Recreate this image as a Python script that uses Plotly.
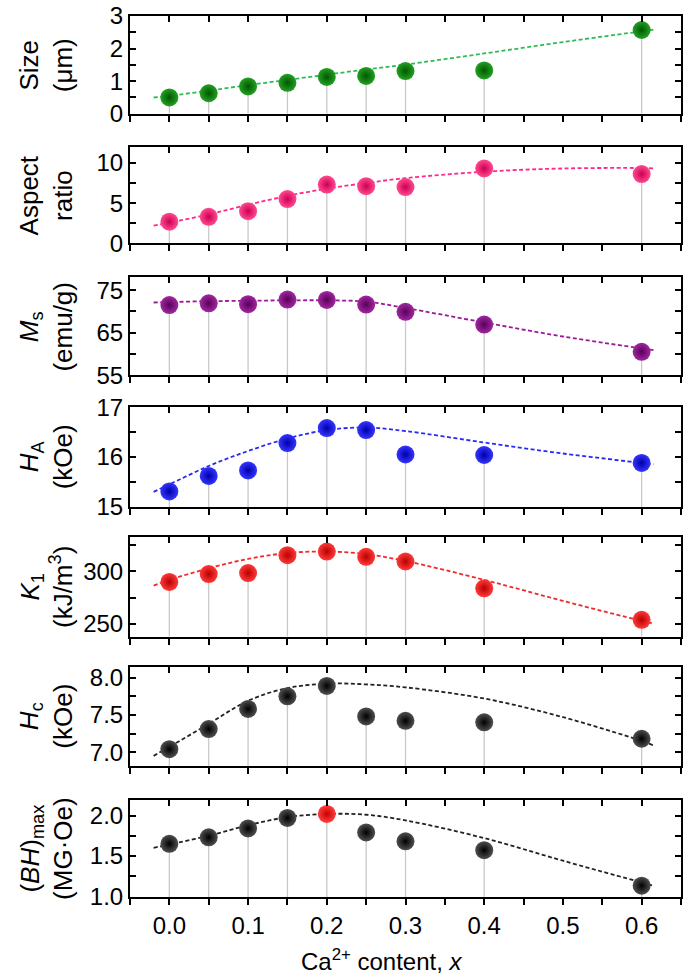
import plotly.graph_objects as go

# ---------------- data ----------------
x_content = [0.0, 0.05, 0.10, 0.15, 0.20, 0.25, 0.30, 0.40, 0.60]

size_um = [0.50, 0.63, 0.84, 0.95, 1.13, 1.16, 1.31, 1.33, 2.57]
aspect_ratio = [2.7, 3.3, 4.0, 5.5, 7.3, 7.1, 7.0, 9.3, 8.6]
ms_emu = [71.5, 71.9, 71.7, 72.8, 72.7, 71.6, 69.9, 66.9, 60.5]
ha_koe = [15.31, 15.62, 15.73, 16.28, 16.58, 16.54, 16.05, 16.04, 15.88]
k1_kj = [290.0, 297.5, 298.5, 315.5, 319.0, 314.0, 309.5, 284.0, 254.0]
hc_koe = [7.04, 7.31, 7.58, 7.75, 7.89, 7.48, 7.42, 7.40, 7.18]
bh_max = [1.65, 1.73, 1.84, 1.97, 2.02, 1.79, 1.68, 1.57, 1.13]

# fitted (dashed) curves
fit_x = [-0.02, 0.0, 0.05, 0.10, 0.15, 0.20, 0.25, 0.30, 0.40, 0.50, 0.60, 0.615]
size_fit = [0.50, 0.55, 0.71, 0.88, 1.04, 1.20, 1.36, 1.51, 1.85, 2.20, 2.53, 2.58]
aspect_fit = [2.2, 2.6, 3.6, 4.8, 5.9, 6.8, 7.5, 8.1, 8.9, 9.3, 9.35, 9.3]
ms_fit = [72.1, 72.2, 72.4, 72.5, 72.6, 72.6, 72.3, 70.8, 67.4, 64.1, 61.3, 60.9]
ha_fit = [15.30, 15.45, 15.82, 16.12, 16.37, 16.54, 16.59, 16.52, 16.29, 16.07, 15.88, 15.85]
k1_fit = [286.5, 292.0, 303.0, 312.0, 317.5, 319.0, 316.5, 310.0, 292.0, 272.0, 253.0, 250.5]
hc_fit = [6.95, 7.07, 7.38, 7.69, 7.86, 7.92, 7.91, 7.87, 7.72, 7.47, 7.15, 7.09]
bh_fit = [1.60, 1.64, 1.75, 1.88, 1.98, 2.02, 2.01, 1.94, 1.72, 1.44, 1.17, 1.13]

x_tick_vals = [0.0, 0.1, 0.2, 0.3, 0.4, 0.5, 0.6]
x_tick_text = ["0.0", "0.1", "0.2", "0.3", "0.4", "0.5", "0.6"]

titles = [
    "Size<br>(μm)",
    "Aspect<br>ratio",
    "<i>M</i><sub>s</sub><br>(emu/g)",
    "<i>H</i><sub>A</sub><br>(kOe)",
    "<i>K</i><sub>1</sub><br>(kJ/m<sup>3</sup>)",
    "<i>H</i><sub>c</sub><br>(kOe)",
    "(<i>BH</i>)<sub>max</sub><br>(MG·Oe)",
]
x_title = "Ca<sup>2+</sup> content, <i>x</i>"

# ---------------- styling ----------------
series = [size_um, aspect_ratio, ms_emu, ha_koe, k1_kj, hc_koe, bh_max]
fits = [size_fit, aspect_fit, ms_fit, ha_fit, k1_fit, hc_fit, bh_fit]
y_ranges = [[0, 3], [0, 12], [55, 78], [15, 17], [238, 333], [6.81, 8.15], [0.99, 2.19]]
y_dtick = [1, 5, 10, 1, 50, 0.5, 0.5]
y_tick0 = [0, 0, 55, 15, 250, 7.0, 1.0]
y_minor = [0.5, 2.5, 5, 0.5, 25, 0.25, 0.25]
y_fmt = ["d", "d", "d", "d", "d", ".1f", ".1f"]
mark_center = ["#24a024", "#ff4a90", "#a028a0", "#3535ff", "#ff3a3a", "#505050", "#505050"]
mark_edge = ["#005800", "#cc0052", "#5a005a", "#0000a8", "#b80000", "#000000", "#000000"]
fit_col = ["#2dbb55", "#ff2a8a", "#9a1a9a", "#2a2af5", "#f02a2a", "#222222", "#222222"]

# panel boxes in pixels from top of the 980 px page
panel_px = [(14, 112), (145, 242), (276, 374), (406, 506), (536, 636), (666, 766), (800, 897)]
W, H = 685, 980
ML, MR = 130, 2
MT, MB = 14, 83
plot_w = W - ML - MR
plot_h = H - MT - MB
TITLE_X_PX = 46      # centre of the two-line y titles
XTITLE_PX = (383, 960)

FONT = "Liberation Sans, Arial, sans-serif"
TICK_SIZE = 24
TITLE_SIZE = 26
X_RANGE = [-0.05, 0.65]

fig = go.Figure()
layout = {}
annotations = []

for i in range(7):
    n = i + 1
    xa = "x" if n == 1 else f"x{n}"
    ya = "y" if n == 1 else f"y{n}"
    xt = f"x{7 + n}"
    ymin = y_ranges[i][0]
    ys = series[i]

    # drop lines to the bottom of the panel
    fig.add_trace(go.Scatter(
        x=x_content, y=ys, mode="markers", xaxis=xa, yaxis=ya,
        marker=dict(size=1, color="rgba(0,0,0,0)"),
        error_y=dict(type="data", symmetric=False,
                     array=[0] * len(ys), arrayminus=[v - ymin for v in ys],
                     color="#c9c9c9", thickness=1.3, width=0),
        showlegend=False, hoverinfo="skip"))

    # dashed fit curve
    fig.add_trace(go.Scatter(
        x=fit_x, y=fits[i], mode="lines", xaxis=xa, yaxis=ya,
        line=dict(color=fit_col[i], width=1.8, dash="4px,2.5px", shape="spline", smoothing=1.0),
        showlegend=False))

    # spherical markers
    cols = [mark_center[i] for _ in ys]
    edges = [mark_edge[i] for _ in ys]
    if i == 6:
        cols[4] = "#ff4040"
        edges[4] = "#c80000"
    fig.add_trace(go.Scatter(
        x=x_content, y=ys, mode="markers", xaxis=xa, yaxis=ya,
        marker=dict(size=18, color=cols,
                    gradient=dict(type="radial", color=edges),
                    line=dict(width=0)),
        showlegend=False))

    # dummy trace for top tick axis
    fig.add_trace(go.Scatter(x=[None], y=[None], xaxis=xt, yaxis=ya, showlegend=False))

    top, bot = panel_px[i]
    dom = [(H - MB - bot) / plot_h, (H - MB - top) / plot_h]
    dom = [max(0, min(1, d)) for d in dom]

    xkey = "xaxis" if n == 1 else f"xaxis{n}"
    ykey = "yaxis" if n == 1 else f"yaxis{n}"
    layout[xkey] = dict(
        domain=[0, 1], anchor=ya, range=X_RANGE, autorange=False,
        tickmode="array", tickvals=x_tick_vals, ticktext=x_tick_text,
        showticklabels=(n == 7),
        ticks="outside", ticklen=6, tickwidth=2, tickcolor="black",
        minor=dict(dtick=0.05, tick0=0, ticks="outside", ticklen=6, tickwidth=2, tickcolor="black"),
        showline=True, linewidth=2, linecolor="black", mirror=True,
        showgrid=False, zeroline=False,
        tickfont=dict(family=FONT, size=TICK_SIZE, color="black"),
    )
    layout[f"xaxis{7 + n}"] = dict(
        overlaying=xa, side="top", anchor=ya, range=X_RANGE, autorange=False,
        tickmode="linear", tick0=0, dtick=0.05,
        ticks="inside", ticklen=6, tickwidth=2, tickcolor="black",
        showticklabels=False, showline=False, showgrid=False, zeroline=False,
    )
    layout[ykey] = dict(
        domain=dom, anchor=xa, range=y_ranges[i], autorange=False,
        tickmode="linear", tick0=y_tick0[i], dtick=y_dtick[i], tickformat=y_fmt[i],
        ticks="inside", ticklen=6, tickwidth=2, tickcolor="black",
        minor=dict(dtick=y_minor[i], ticks="inside", ticklen=6, tickwidth=2, tickcolor="black"),
        showline=True, linewidth=2, linecolor="black", mirror="ticks",
        showgrid=False, zeroline=False,
        tickfont=dict(family=FONT, size=TICK_SIZE, color="black"),
    )
    annotations.append(dict(
        text=titles[i], textangle=-90, showarrow=False,
        xref="paper", yref="paper",
        x=(TITLE_X_PX - ML) / plot_w, y=(dom[0] + dom[1]) / 2,
        xanchor="center", yanchor="middle", align="center",
        font=dict(family=FONT, size=TITLE_SIZE, color="black"),
    ))

annotations.append(dict(
    text=x_title, showarrow=False, xref="paper", yref="paper",
    x=(XTITLE_PX[0] - ML) / plot_w, y=(H - MB - XTITLE_PX[1]) / plot_h,
    xanchor="center", yanchor="middle",
    font=dict(family=FONT, size=TICK_SIZE, color="black"),
))

fig.update_layout(
    width=W, height=H,
    margin=dict(l=ML, r=MR, t=MT, b=MB),
    plot_bgcolor="white", paper_bgcolor="white",
    showlegend=False,
    font=dict(family=FONT, color="black"),
    annotations=annotations,
    **layout,
)

fig.write_html("out.html",
               config={"displayModeBar": False},
               post_script="document.body.style.margin='0';document.body.style.overflow='hidden';")
